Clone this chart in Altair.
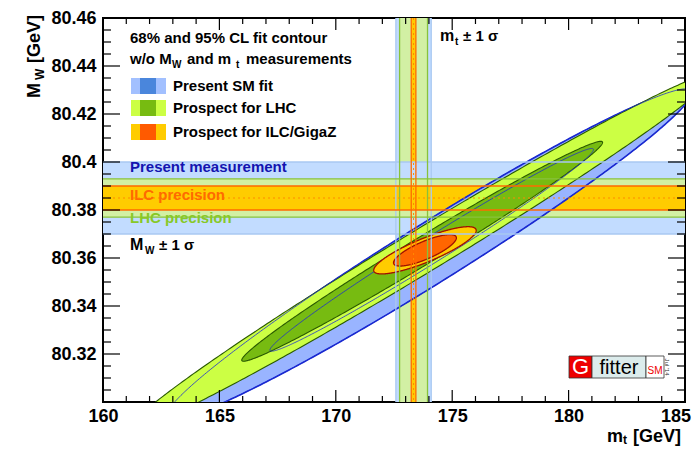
import altair as alt
import numpy as np
import pandas as pd

FONT = "Liberation Sans"
PAD_L, PAD_T = 95, 10
W, H = 582, 384
PAD_R = 684 - PAD_L - W
PAD_B = 439 - PAD_T - H
OX, OY = 8 + PAD_L, 8 + PAD_T     # page position of the plot's top-left corner

# ---- fit contours (ellipse parameters) ----
contour_names = ["SM95", "SM68", "LHC95", "LHC68", "ILC95", "ILC68"]
center_mt = [174.0, 174.12, 173.71, 173.71, 173.83, 173.83]
center_mw = [80.3615, 80.3634, 80.3628, 80.3628, 80.3632, 80.3632]
half_mt = [11.3, 6.95, 12.5, 7.75, 2.2, 1.35]
slope = [0.00597, 0.00601, 0.00585, 0.00585, 0.00377, 0.00385]
half_width = [0.0145, 0.0062, 0.0104, 0.0066, 0.0053, 0.0040]

# ---- measurement bands ----
mw_center = 80.385
mw_err = [0.015, 0.008, 0.005]          # present, LHC, ILC
mt_center = 173.34
mt_err = [0.76, 0.6, 0.1]               # present, LHC, ILC
band_names = ["present", "LHC", "ILC"]

# ---- axes ----
x_labels = [160, 165, 170, 175, 180]
x_last_label = "185"
y_labels = [80.32, 80.34, 80.36, 80.38, 80.40, 80.42, 80.44, 80.46]
x_major = [165, 170, 175, 180]
x_minor = [161, 162, 163, 164, 166, 167, 168, 169, 171, 172, 173, 174,
           176, 177, 178, 179, 181, 182, 183, 184]
y_major = [80.32, 80.34, 80.36, 80.38, 80.40, 80.42, 80.44]
y_minor = [80.305, 80.31, 80.315, 80.325, 80.33, 80.335, 80.345, 80.35, 80.355,
           80.365, 80.37, 80.375, 80.385, 80.39, 80.395, 80.405, 80.41, 80.415,
           80.425, 80.43, 80.435, 80.445, 80.45, 80.455]

rows = []
t = np.linspace(0, np.pi, 241)
for name, cx, cy, ax, s, b in zip(contour_names, center_mt, center_mw, half_mt, slope, half_width):
    dx = -ax * np.cos(t)
    h = b * np.sin(t)
    for d, hh in zip(dx, h):
        rows.append({"contour": name, "mt": cx + d, "lo": cy + s * d - hh, "hi": cy + s * d + hh})
ell = pd.DataFrame(rows)

hb = pd.DataFrame({"band": band_names,
                   "lo": [mw_center - e for e in mw_err],
                   "hi": [mw_center + e for e in mw_err]})
vb = pd.DataFrame({"band": band_names,
                   "lo": [mt_center - e for e in mt_err],
                   "hi": [mt_center + e for e in mt_err]})

xs = alt.Scale(domain=[160, 185], nice=False, zero=False)
ys = alt.Scale(domain=[80.30, 80.46], nice=False, zero=False)
axis_common = dict(ticks=False, domain=False, grid=False, labelFont=FONT, labelFontSize=18,
                   labelFontWeight="bold", labelColor="black", labelFlush=False,
                   labelOverlap=False, title=None)
xaxis = alt.Axis(values=x_labels, format="d", labelPadding=5, **axis_common)
yaxis = alt.Axis(values=y_labels, format=".2~f", labelPadding=7, **axis_common)


def X(f):
    return alt.X(f, type="quantitative", scale=xs, axis=xaxis)


def Y(f):
    return alt.Y(f, type="quantitative", scale=ys, axis=yaxis)


band_fill = {"present": "#c2dcff", "LHC": "#d2f0a4", "ILC": "#ffcc00"}
band_line = {"present": "#a9c9f2", "LHC": "#88c23c", "ILC": "#ff6a00"}

layers = []
# vertical band fills
for bn in band_names:
    layers.append(alt.Chart(vb[vb.band == bn]).mark_rect(color=band_fill[bn]).encode(
        x=X("lo"), x2="hi", y=alt.value(0), y2=alt.value(H)))
# horizontal band fills
for bn in band_names:
    layers.append(alt.Chart(hb[hb.band == bn]).mark_rect(color=band_fill[bn]).encode(
        y=Y("lo"), y2="hi", x=alt.value(0), x2=alt.value(W)))


def ellipse(name, fill, stroke=None, sw=1.0, fill_op=1.0):
    kw = dict(clip=True, fill=fill, fillOpacity=fill_op, interpolate="linear")
    if stroke:
        kw.update(stroke=stroke, strokeWidth=sw)
    return alt.Chart(ell[ell.contour == name]).mark_area(**kw).encode(
        x=X("mt"), y=Y("lo"), y2="hi")


layers += [
    ellipse("SM95", "#99b4ff", "#1a2ad0", 1.6),
    ellipse("SM68", "#4a86dc"),
    ellipse("LHC95", "#ccff44", "#2a5a00", 1.1),
    ellipse("LHC68", "#77bb11", "#2a5a00", 1.1),
    ellipse("SM95", "#ffffff", "#1a2ad0", 0.8, 0.0),
    ellipse("SM68", "#ffffff", "#1a2ad0", 0.8, 0.0),
    ellipse("ILC95", "#ffcc00", "#a01000", 1.3),
    ellipse("ILC68", "#ff6600", "#a01000", 1.3),
]

# band edge lines and central dotted lines
for bn in band_names:
    sub = hb[hb.band == bn]
    for col in ["lo", "hi"]:
        layers.append(alt.Chart(sub).mark_rule(color=band_line[bn], strokeWidth=1.3).encode(
            y=Y(col), x=alt.value(0), x2=alt.value(W)))
    sub = vb[vb.band == bn]
    for col in ["lo", "hi"]:
        layers.append(alt.Chart(sub).mark_rule(color=band_line[bn], strokeWidth=1.3).encode(
            x=X(col), y=alt.value(0), y2=alt.value(H)))
cen_h = pd.DataFrame({"v": [mw_center]})
cen_v = pd.DataFrame({"v": [mt_center]})
layers.append(alt.Chart(cen_h).mark_rule(color="#ff8a00", strokeWidth=1, strokeDash=[2, 3]).encode(
    y=Y("v"), x=alt.value(0), x2=alt.value(W)))
layers.append(alt.Chart(cen_v).mark_rule(color="#ff8a00", strokeWidth=1, strokeDash=[2, 3]).encode(
    x=X("v"), y=alt.value(0), y2=alt.value(H)))

# inner ticks (ROOT style)
for vals, ln in [(x_major, 12), (x_minor, 6)]:
    d = pd.DataFrame({"v": vals})
    layers.append(alt.Chart(d).mark_rule(color="black", strokeWidth=1.2).encode(
        x=X("v"), y=alt.value(H), y2=alt.value(H - ln)))
    layers.append(alt.Chart(d).mark_rule(color="black", strokeWidth=1.2).encode(
        x=X("v"), y=alt.value(0), y2=alt.value(ln)))
for vals, ln in [(y_major, 17), (y_minor, 8)]:
    d = pd.DataFrame({"v": vals})
    layers.append(alt.Chart(d).mark_rule(color="black", strokeWidth=1.2).encode(
        y=Y("v"), x=alt.value(0), x2=alt.value(ln)))
    layers.append(alt.Chart(d).mark_rule(color="black", strokeWidth=1.2).encode(
        y=Y("v"), x=alt.value(W), x2=alt.value(W - ln)))

one = alt.Data(values=[{"a": 1}])


def txt(s, px, py, size=15, color="black", weight="bold", angle=0, align="left", baseline="alphabetic"):
    """text placed at page pixel position (px, py)"""
    return alt.Chart(one).mark_text(text=s, font=FONT, fontSize=size, color=color, fontWeight=weight,
                                    angle=angle, align=align, baseline=baseline).encode(
        x=alt.value(px - OX), y=alt.value(py - OY))


def box(x1, x2, y1, y2, color, stroke=None):
    kw = dict(color=color)
    if stroke:
        kw.update(stroke=stroke, strokeWidth=0.8)
    return alt.Chart(one).mark_rect(**kw).encode(
        x=alt.value(x1 - OX), x2=alt.value(x2 - OX), y=alt.value(y1 - OY), y2=alt.value(y2 - OY))


# last x label, kept inside the page
layers.append(txt(x_last_label, 691, 422, size=18, align="right"))

# legend
layers += [
    txt("68% and 95% CL fit contour", 130, 43),
    txt("w/o M", 130, 64), txt("W", 172, 68, size=10),
    txt("and m", 187, 64), txt("t", 236, 68, size=10), txt("measurements", 246, 64),
]
legend_rows = [("Present SM fit", "#a2c0ff", "#4a86dc", 78, 94, 91),
               ("Prospect for LHC", "#ccff44", "#77bb11", 100, 116, 113),
               ("Prospect for ILC/GigaZ", "#ffcc00", "#ff5a00", 124, 140, 137)]
for label, light, dark, y1, y2, yb in legend_rows:
    layers += [box(131, 166, y1, y2, light), box(140, 156, y1, y2, dark), txt(label, 173, yb)]

layers += [
    txt("Present measurement", 130, 172, color="#1414b0"),
    txt("ILC precision", 130, 200, color="#ff6a00"),
    txt("LHC precision", 130, 223, color="#88c828"),
    txt("M", 130, 250, size=16), txt("W", 145, 254, size=10), txt("± 1 σ", 159, 250),
    txt("m", 440, 41, size=16), txt("t", 455, 45, size=10), txt("± 1 σ", 463, 41),
]

# axis titles
layers += [
    txt("M", 40, 98, size=18, angle=270), txt("W", 44, 80, size=12, angle=270),
    txt("[GeV]", 40, 63, size=18, angle=270),
    txt("m", 607, 442, size=18), txt("t", 623, 444, size=12), txt("[GeV]", 633, 442, size=18),
]

# Gfitter logo
layers += [
    box(569, 592, 356, 378, "#ee0000", "#333333"),
    box(592, 646, 356, 378, "#dcecec", "#333333"),
    box(646, 664, 356, 378, "#ffffff", "#333333"),
    txt("G", 580.5, 374, size=22, color="white", weight="normal", align="center"),
    txt("fitter", 619, 374, size=20, color="black", weight="normal", align="center"),
    txt("SM", 655, 374, size=10, color="#ee0000", weight="normal", align="center"),
    txt("Jul '14", 667, 367, size=6, color="#333333", weight="normal", angle=90,
        align="center", baseline="middle"),
]

chart = alt.layer(*layers).properties(
    width=W, height=H,
    padding={"left": PAD_L, "top": PAD_T, "right": PAD_R, "bottom": PAD_B},
    autosize=alt.AutoSizeParams(type="none"),
).configure_view(stroke="black", strokeWidth=2)

chart.save("out.html", embed_options={"renderer": "svg", "actions": False})
